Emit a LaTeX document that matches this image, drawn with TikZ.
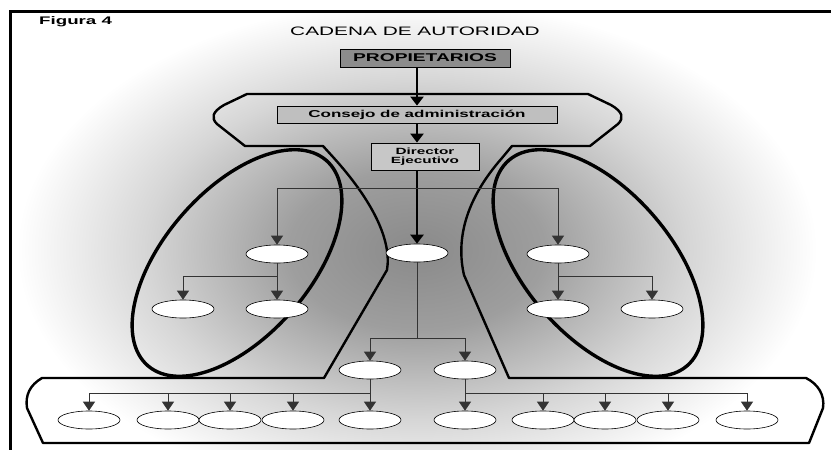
\documentclass[tikz,border=0pt]{standalone}
\usepackage{fontspec}
\newfontfamily\widesans[FakeStretch=1.7]{Liberation Sans}
\usetikzlibrary{shapes.geometric, arrows.meta, positioning}
\pgfdeclareradialshading{haze}{\pgfpoint{0bp}{0bp}}{color(0bp)=(black!46); color(8bp)=(black!38); color(17bp)=(black!16); color(25bp)=(white); color(50bp)=(white)}
\tikzset{
    box/.style={rectangle, draw, line width=0.8pt, inner sep=0pt, align=center},
    unit/.style={ellipse, draw, fill=white, line width=0.6pt, minimum width=62pt, minimum height=18pt, inner sep=0pt},
    arrow/.style={draw=black!80, line width=0.8pt, -{Triangle[width=12pt, length=9pt]}},
    mainarrow/.style={line width=2.6pt, -{Triangle[width=13pt, length=9pt]}},
    outline/.style={line width=2.4pt, line join=round},
    group/.style={line width=3.4pt}
}

\begin{document}
\begin{tikzpicture}[x=1pt, y=-1pt]
    \useasboundingbox (0,0) rectangle (831,450);

    % Background haze
    \begin{scope}
        \clip (10,11) rectangle (831,450);
        \shade[shading=haze] (417,250) ellipse [x radius=400pt, y radius=250pt];
    \end{scope}
    \draw[line width=3pt] (10,450) -- (10,11) -- (831,11);

    \node (Figure) [anchor=base west, inner sep=0pt, font=\widesans\bfseries\fontsize{11}{13}\selectfont] at (39,24) {Figura 4};
    \node (Title) [inner sep=0pt, font=\widesans\fontsize{12.25}{14}\selectfont] at (415,31.5) {CADENA DE AUTORIDAD};

    % Outline of board and groups
    \draw[outline] (247,94) -- (588,94) -- (611,105)
        .. controls (623,112) and (624,118) .. (618,124) -- (590,146)
        -- (512,146) -- (502,158)
        .. controls (465,200) and (456,240) .. (464,275) -- (509,378)
        -- (806,378) .. controls (818,384) and (825,395) .. (823,408) -- (809,443)
        -- (43,443) -- (27,408) .. controls (25,395) and (30,385) .. (42,378)
        -- (324,378) -- (387,270)
        .. controls (392,240) and (372,200) .. (333,157) -- (323,146)
        -- (245,146) -- (217,124) .. controls (211,118) and (212,112) .. (224,105) -- cycle;
    \draw[group] (237,263) ellipse [x radius=136pt, y radius=73pt, rotate=49];
    \draw[group] (598,263) ellipse [x radius=136pt, y radius=73pt, rotate=-49];

    % Chain of command
    \node (Owners) [box, fill=black!45, minimum width=170pt, minimum height=18pt, font=\widesans\bfseries\fontsize{11.3}{13}\selectfont] at (425,58) {PROPIETARIOS};
    \node (Board) [box, fill=black!25, minimum width=280pt, minimum height=17pt, font=\widesans\bfseries\fontsize{10}{12}\selectfont] at (417,114.5) {Consejo de administración};
    \node (Director) [box, fill=black!22, minimum width=108pt, minimum height=27pt, font=\widesans\bfseries\fontsize{9}{9.5}\selectfont] at (425,156.5) {Director\\Ejecutivo};

    \draw[mainarrow] (Owners.south -| Board.north) -- (Board.north);
    \draw[mainarrow] (Board.south) -- (Board.south |- Director.north);

    % Units
    \node (Mid) [unit] at (417,253) {};
    \node (LTop) [unit] at (277,254) {};
    \node (LA) [unit] at (183,309) {};
    \node (LB) [unit] at (277,309) {};
    \node (RTop) [unit] at (558,254) {};
    \node (RA) [unit] at (558,309) {};
    \node (RB) [unit] at (652,309) {};
    \node (M1) [unit] at (370,370) {};
    \node (M2) [unit] at (465,370) {};
    \node (B1) [unit] at (89,420) {};
    \node (B2) [unit] at (168,420) {};
    \node (B3) [unit] at (230,420) {};
    \node (B4) [unit] at (293,420) {};
    \node (B5) [unit] at (370,420) {};
    \node (B6) [unit] at (465,420) {};
    \node (B7) [unit] at (543,420) {};
    \node (B8) [unit] at (605,420) {};
    \node (B9) [unit] at (668,420) {};
    \node (B10) [unit] at (747,420) {};

    \draw[mainarrow] (Board.south |- Director.south) -- (Mid.north);

    % Splits
    \coordinate (Split) at (417,188);
    \coordinate (LSplit) at (277,276);
    \coordinate (RSplit) at (558,276);
    \coordinate (CSplit) at (417,338);
    \coordinate (BSplitL) at (370,393);
    \coordinate (BSplitR) at (465,393);

    \draw[arrow] (Split) -| (LTop.north);
    \draw[arrow] (Split) -| (RTop.north);
    \draw[arrow] (LTop) -- (LB);
    \draw[arrow] (LSplit) -| (LA.north);
    \draw[arrow] (RTop) -- (RA);
    \draw[arrow] (RSplit) -| (RB.north);

    \draw[draw=black!80, line width=0.8pt] (Mid) -- (CSplit);
    \draw[arrow] (CSplit) -| (M1.north);
    \draw[arrow] (CSplit) -| (M2.north);

    \draw[arrow] (M1) -- (B5);
    \foreach \b in {B1,B2,B3,B4}
        \draw[arrow] (BSplitL) -| (\b.north);
    \draw[arrow] (M2) -- (B6);
    \foreach \b in {B7,B8,B9,B10}
        \draw[arrow] (BSplitR) -| (\b.north);
\end{tikzpicture}
\end{document}
